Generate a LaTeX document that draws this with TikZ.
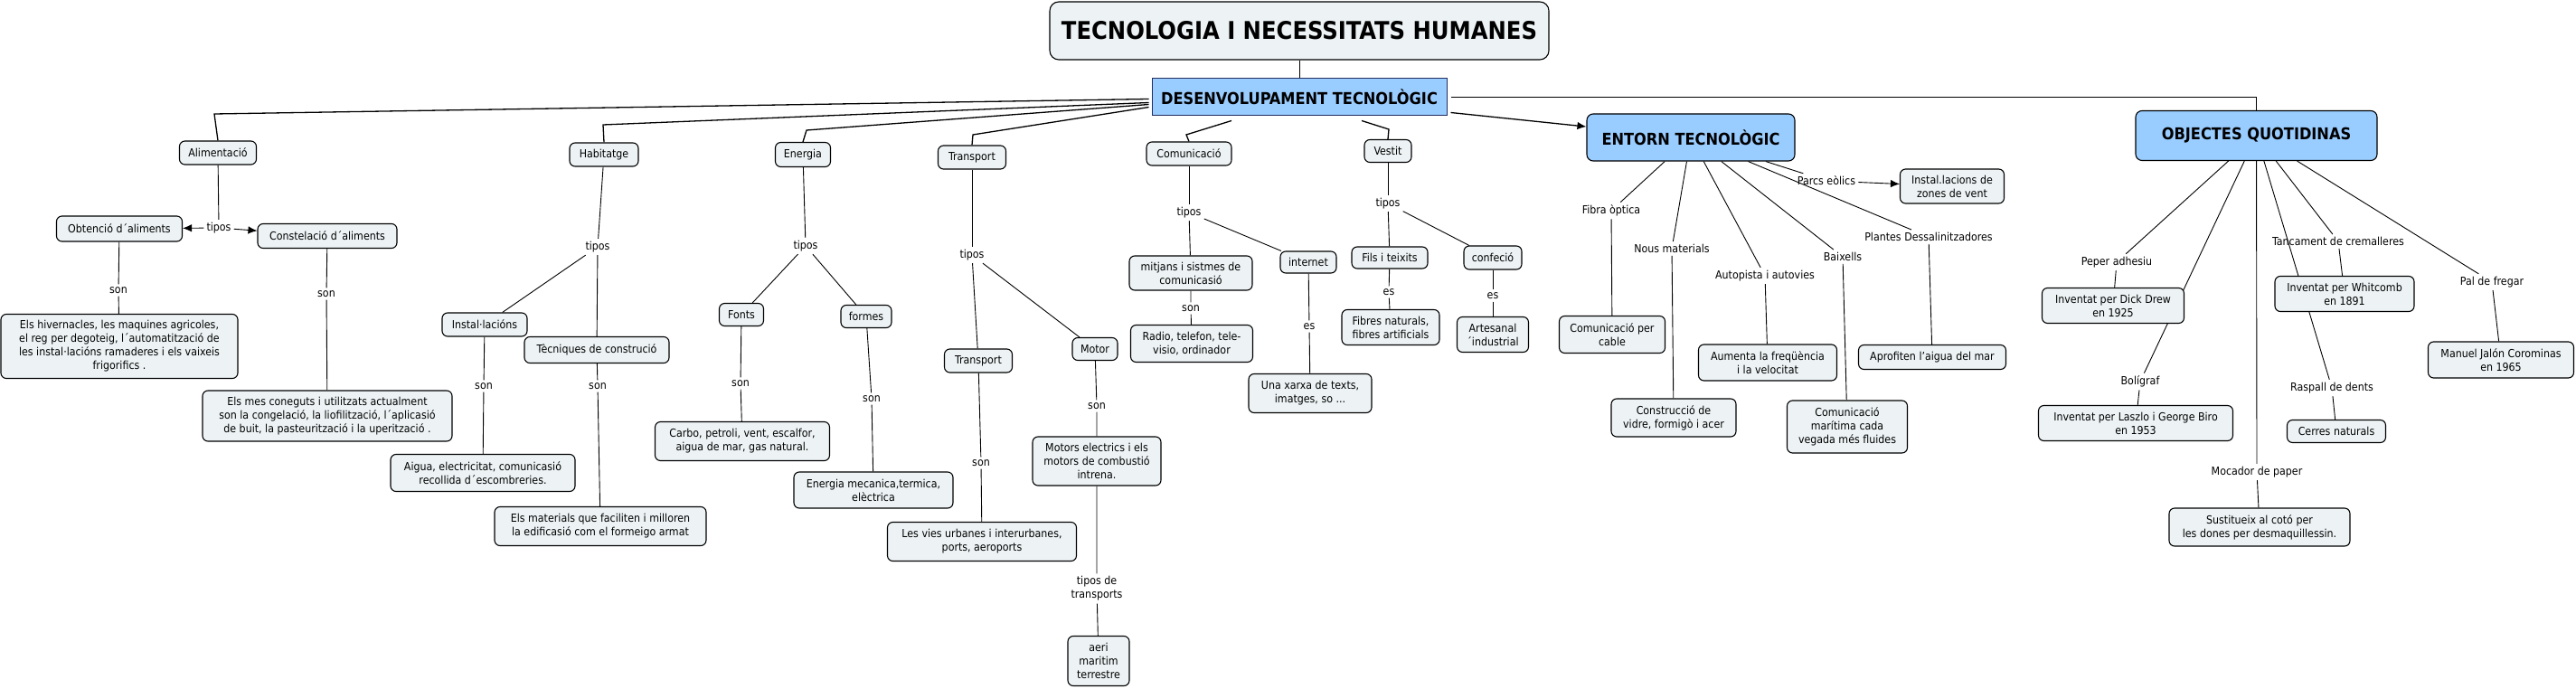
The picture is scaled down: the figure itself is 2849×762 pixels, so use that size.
\documentclass[tikz,border=0pt]{standalone}
\usepackage{fontspec}
\setmainfont{DejaVu Sans Condensed}
\usetikzlibrary{arrows.meta,calc,backgrounds}
\definecolor{boxfill}{RGB}{237,243,245}
\definecolor{bluefill}{RGB}{153,204,255}
\definecolor{navy}{RGB}{35,45,95}
\begin{document}
\begin{tikzpicture}[x=1pt,y=-1pt,
  box/.style={draw=black, line width=1.1pt, rounded corners=6pt, fill=boxfill, align=center, inner sep=0pt, font=\fontsize{12.3}{15}\selectfont},
  bigbox/.style={draw=black, line width=1.1pt, rounded corners=7pt, fill=bluefill, align=center, inner sep=0pt, font=\fontsize{18}{20}\selectfont\bfseries},
  lbl/.style={align=center, inner sep=3pt, font=\fontsize{12.3}{15}\selectfont},
  conn/.style={line width=0.9pt},
  topconn/.style={line width=1.3pt},
  tip/.style={-{Latex[length=10pt,width=8.5pt]}},
]
\useasboundingbox (0,0) rectangle (2849,762);

% ---------- main boxes ----------
\node[box, rounded corners=10pt, minimum width=552pt, minimum height=64pt, font=\fontsize{27}{30}\selectfont\bfseries] (title) at (1437,34) {TECNOLOGIA I NECESSITATS HUMANES};
\node[draw=navy, line width=1pt, fill=bluefill, minimum width=326pt, minimum height=41pt, inner sep=0pt, font=\fontsize{18}{20}\selectfont\bfseries] (desenv) at (1437,107.5) {DESENVOLUPAMENT TECNOLÒGIC};
\node[bigbox, minimum width=230pt, minimum height=52pt] (entorn) at (1870,152) {ENTORN TECNOLÒGIC};
\node[bigbox, minimum width=267pt, minimum height=55pt] (obj) at (2495.5,150) {OBJECTES QUOTIDINAS};

% ---------- first level ----------
\node[box, minimum width=85pt, minimum height=26pt] (ali) at (241,169) {Alimentació};
\node[box, minimum width=76pt, minimum height=26pt] (hab) at (668,171) {Habitatge};
\node[box, minimum width=61pt, minimum height=27pt] (ener) at (888,171) {Energia};
\node[box, minimum width=75pt, minimum height=26pt] (trans) at (1075,174) {Transport};
\node[box, minimum width=94pt, minimum height=26pt] (comu) at (1315,170) {Comunicació};
\node[box, minimum width=52pt, minimum height=25pt] (vest) at (1535,167) {Vestit};

% ---------- Alimentacio ----------
\node[box, minimum width=139pt, minimum height=28pt] (obt) at (132,253) {Obtenció d´aliments};
\node[box, minimum width=154pt, minimum height=27pt] (cons) at (362,261) {Constelació d´aliments};
\node[box, minimum width=262pt, minimum height=71pt] (hiv) at (132,383) {Els hivernacles, les maquines agricoles,\\el reg per degoteig, l´automatització de\\les instal·lacións ramaderes i els vaixeis\\frigorifics .};
\node[box, minimum width=276pt, minimum height=56pt] (mes) at (362,460) {Els mes coneguts i utilitzats actualment\\son la congelació, la liofilització, l´aplicasió\\de buit, la pasteurització i la uperització .};
\node[lbl] (lali) at (242,252) {tipos};
\node[lbl] (lobt) at (131,321) {son};
\node[lbl] (lcons) at (361,325) {son};

% ---------- Habitatge ----------
\node[box, minimum width=94pt, minimum height=26pt] (inst) at (536,359) {Instal·lacións};
\node[box, minimum width=160pt, minimum height=29pt] (tec) at (660,387) {Tècniques de construció};
\node[box, minimum width=204pt, minimum height=41pt] (aig) at (534,523) {Aigua, electricitat, comunicasió\\recollida d´escombreries.};
\node[box, minimum width=234pt, minimum height=43pt] (mat) at (664,582) {Els materials que faciliten i milloren\\la edificasió com el formeigo armat};
\node[lbl] (lhab) at (661,273) {tipos};
\node[lbl] (linst) at (535,427) {son};
\node[lbl] (ltec) at (661,427) {son};

% ---------- Energia ----------
\node[box, minimum width=49pt, minimum height=25pt] (fonts) at (820,348) {Fonts};
\node[box, minimum width=56pt, minimum height=25pt] (formes) at (958,350) {formes};
\node[box, minimum width=193pt, minimum height=43pt] (carbo) at (821,488) {Carbo, petroli, vent, escalfor,\\aigua de mar, gas natural.};
\node[box, minimum width=176pt, minimum height=40pt] (enmec) at (966,542) {Energia mecanica,termica,\\elèctrica};
\node[lbl] (lener) at (891,272) {tipos};
\node[lbl] (lfonts) at (819,424) {son};
\node[lbl] (lformes) at (964,441) {son};

% ---------- Transport ----------
\node[box, minimum width=75pt, minimum height=26pt] (transb) at (1082,399) {Transport};
\node[box, minimum width=50pt, minimum height=25pt] (motor) at (1211,386) {Motor};
\node[box, minimum width=209pt, minimum height=43pt] (vies) at (1086,599) {Les vies urbanes i interurbanes,\\ports, aeroports};
\node[box, minimum width=142pt, minimum height=54pt] (motel) at (1213,510) {Motors electrics i els\\motors de combustió\\intrena.};
\node[box, minimum width=68pt, minimum height=55pt] (aeri) at (1215,731) {aeri\\maritim\\terrestre};
\node[lbl] (ltrans) at (1075,282) {tipos};
\node[lbl] (ltransb) at (1085,512) {son};
\node[lbl] (lmotor) at (1213,449) {son};
\node[lbl] (lmotel) at (1213,651) {tipos de\\transports};

% ---------- Comunicacio ----------
\node[box, minimum width=136pt, minimum height=38pt] (mitj) at (1317,302) {mitjans i sistmes de\\comunicasió};
\node[box, minimum width=135pt, minimum height=41pt] (radio) at (1318,380) {Radio, telefon, tele-\\visio, ordinador};
\node[box, minimum width=62pt, minimum height=24pt] (inter) at (1447,290) {internet};
\node[box, minimum width=136pt, minimum height=43pt] (xarxa) at (1449,435) {Una xarxa de texts,\\imatges, so ...};
\node[lbl] (lcomu) at (1315,235) {tipos};
\node[lbl] (lmitj) at (1317,341) {son};
\node[lbl] (linter) at (1448,361) {es};

% ---------- Vestit ----------
\node[box, minimum width=84pt, minimum height=24pt] (fils) at (1537,285) {Fils i teixits};
\node[box, minimum width=64pt, minimum height=26pt] (confe) at (1651,285) {confeció};
\node[box, minimum width=108pt, minimum height=39pt] (fibres) at (1538,362) {Fibres naturals,\\fibres artificials};
\node[box, minimum width=79pt, minimum height=39pt] (artes) at (1651,370) {Artesanal\\´industrial};
\node[lbl] (lvest) at (1535,225) {tipos};
\node[lbl] (lfils) at (1536,323) {es};
\node[lbl] (lconfe) at (1651,327) {es};

% ---------- Entorn ----------
\node[box, minimum width=117pt, minimum height=41pt] (cable) at (1783,370) {Comunicació per\\cable};
\node[box, minimum width=138pt, minimum height=42pt] (constr) at (1851,462) {Construcció de\\vidre, formigò i acer};
\node[box, minimum width=153pt, minimum height=40pt] (aument) at (1955,401) {Aumenta la freqüència\\i la velocitat};
\node[box, minimum width=133pt, minimum height=58pt] (marit) at (2043,472) {Comunicació\\marítima cada\\vegada més fluides};
\node[box, minimum width=115pt, minimum height=38pt] (instv) at (2159,206) {Instal.lacions de\\zones de vent};
\node[box, minimum width=163pt, minimum height=27pt] (aprof) at (2137,395) {Aprofiten l'aigua del mar};
\node[lbl] (lfibra) at (1782,233) {Fibra òptica};
\node[lbl] (lnous) at (1849,275) {Nous materials};
\node[lbl] (lauto) at (1952,305) {Autopista i autovies};
\node[lbl] (lbaix) at (2038,284) {Baixells};
\node[lbl] (lparcs) at (2020,200) {Parcs eòlics};
\node[lbl] (lplant) at (2133,262) {Plantes Dessalinitzadores};

% ---------- Objectes ----------
\node[box, minimum width=157pt, minimum height=39pt] (drew) at (2337,338) {Inventat per Dick Drew\\en 1925};
\node[box, minimum width=215pt, minimum height=39pt] (biro) at (2362,468) {Inventat per Laszlo i George Biro\\en 1953};
\node[box, minimum width=200pt, minimum height=42pt] (sust) at (2499,583) {Sustitueix al cotó per\\les dones per desmaquillessin.};
\node[box, minimum width=154pt, minimum height=39pt] (whit) at (2593,325) {Inventat per Whitcomb\\en 1891};
\node[box, minimum width=109pt, minimum height=25pt] (cerres) at (2584,477) {Cerres naturals};
\node[box, minimum width=161pt, minimum height=40pt] (manuel) at (2766,398) {Manuel Jalón Corominas\\en 1965};
\node[lbl] (lpeper) at (2341,290) {Peper adhesiu};
\node[lbl] (lbol) at (2367,422) {Bolígraf};
\node[lbl] (lmoc) at (2496,522) {Mocador de paper};
\node[lbl] (ltanc) at (2586,267) {Tancament de cremalleres};
\node[lbl] (lrasp) at (2579,429) {Raspall de dents};
\node[lbl] (lpal) at (2756,312) {Pal de fregar};

% ---------- elbows ----------
\coordinate (kali) at (237,126);
\coordinate (khab) at (667,138);
\coordinate (kener) at (892,144);
\coordinate (ktrans) at (1076,149);
\coordinate (kcomu) at (1312,149);
\coordinate (kvest) at (1536,143);

\begin{pgfonlayer}{background}
\fill[white] (0,0) rectangle (2849,762);
% top
\draw[conn] (title) -- (desenv);
\draw[topconn] (ali.north) -- (kali) -- ($(desenv.west)+(-3,2)$);
\draw[topconn] (hab.north) -- (khab) -- ($(desenv.west)+(-3,6)$);
\draw[topconn] (ener.north) -- (kener) -- ($(desenv.west)+(-3,8)$);
\draw[topconn] (trans.north) -- (ktrans) -- ($(desenv.west)+(-3,11)$);
\draw[topconn] (comu.north) -- (kcomu) -- ($(desenv.south)+(-75,5)$);
\draw[topconn] (vest.north) -- (kvest) -- ($(desenv.south)+(69,5)$);
\draw[topconn] ($(desenv.east)+(4,0)$) -| (obj.north);
\draw[topconn,tip] ($(desenv.east)+(4,17)$) -- (entorn);
% alimentacio
\draw[conn] (ali) -- (lali);
\draw[conn,tip] (lali) -- (obt);
\draw[conn,tip] (lali) -- (cons);
\draw[conn] (obt) -- (lobt) -- (hiv);
\draw[conn] (cons) -- (lcons) -- (mes);
% habitatge
\draw[conn] (hab) -- (lhab);
\draw[conn] (lhab) -- (inst);
\draw[conn] (lhab) -- (tec);
\draw[conn] (inst) -- (linst) -- (aig);
\draw[conn] (tec) -- (ltec) -- (mat);
% energia
\draw[conn] (ener) -- (lener);
\draw[conn] (lener) -- (fonts);
\draw[conn] (lener) -- (formes);
\draw[conn] (fonts) -- (lfonts) -- (carbo);
\draw[conn] (formes) -- (lformes) -- (enmec);
% transport
\draw[conn] (trans) -- (ltrans);
\draw[conn] (ltrans) -- (transb);
\draw[conn] (ltrans) -- (motor);
\draw[conn] (transb) -- (ltransb) -- (vies);
\draw[conn] (motor) -- (lmotor) -- (motel);
\draw[conn] (motel) -- (lmotel) -- (aeri);
% comunicacio
\draw[conn] (comu) -- (lcomu);
\draw[conn] (lcomu) -- (mitj);
\draw[conn] (lcomu) -- (inter);
\draw[conn] (mitj) -- (lmitj) -- (radio);
\draw[conn] (inter) -- (linter) -- (xarxa);
% vestit
\draw[conn] (vest) -- (lvest);
\draw[conn] (lvest) -- (fils);
\draw[conn] (lvest) -- (confe);
\draw[conn] (fils) -- (lfils) -- (fibres);
\draw[conn] (confe) -- (lconfe) -- (artes);
% entorn
\draw[conn] (entorn) -- (lfibra) -- (cable);
\draw[conn] (entorn) -- (lnous) -- (constr);
\draw[conn] (entorn) -- (lauto) -- (aument);
\draw[conn] (entorn) -- (lbaix) -- (marit);
\draw[conn] (entorn) -- (lparcs);
\draw[conn,tip] (lparcs) -- (instv);
\draw[conn] (entorn) -- (lplant) -- (aprof);
% objectes
\draw[conn] (obj) -- (lpeper) -- (drew);
\draw[conn] (obj) -- (lbol) -- (biro);
\draw[conn] (obj) -- (lmoc) -- (sust);
\draw[conn] (obj) -- (ltanc) -- (whit);
\draw[conn] (obj) -- (lrasp) -- (cerres);
\draw[conn] (obj) -- (lpal) -- (manuel);
\end{pgfonlayer}
\end{tikzpicture}
\end{document}
